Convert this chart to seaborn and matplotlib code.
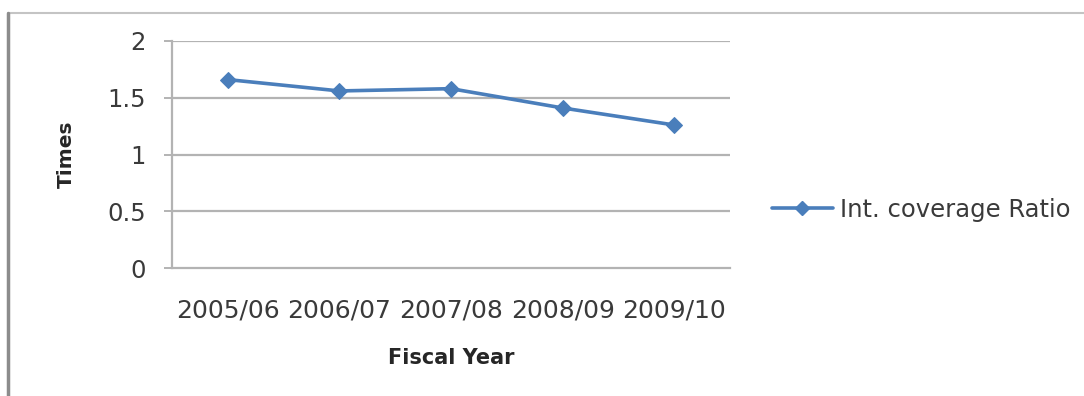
import matplotlib
matplotlib.use("Agg")
import matplotlib.pyplot as plt
from matplotlib.lines import Line2D
import seaborn as sns
import pandas as pd

# Interest coverage ratio by fiscal year
fiscal_years = ["2005/06", "2006/07", "2007/08", "2008/09", "2009/10"]
coverage_ratio = [1.66, 1.56, 1.58, 1.41, 1.26]
y_ticks = [0, 0.5, 1, 1.5, 2]
y_tick_labels = ["0", "0.5", "1", "1.5", "2"]
series_name = "Int. coverage Ratio"

df = pd.DataFrame({"Fiscal Year": fiscal_years, "Times": coverage_ratio})

sns.set_theme(style="white")
plt.rcParams["font.family"] = ["DejaVu Sans"]

line_color = "#4A7EBB"
grid_color = "#B3B3B3"
text_color = "#3A3A3A"

fig = plt.figure(figsize=(10.84, 3.96), dpi=100)
ax = fig.add_axes([172 / 1084, 1 - 268 / 396, (730 - 172) / 1084, (268 - 41) / 396])

sns.lineplot(data=df, x="Fiscal Year", y="Times", ax=ax, sort=False,
             color=line_color, linewidth=2.6, marker="D", markersize=8.5,
             markeredgecolor=line_color, markerfacecolor=line_color)

ax.set_xlim(-0.5, len(fiscal_years) - 0.5)
ax.set_ylim(0, 2)
ax.set_yticks(y_ticks)
ax.set_yticklabels(y_tick_labels)

# horizontal gridlines only
for y in y_ticks[1:]:
    ax.axhline(y, color=grid_color, linewidth=1.6, zorder=0)

for side in ["top", "right"]:
    ax.spines[side].set_visible(False)
for side in ["left", "bottom"]:
    ax.spines[side].set_color(grid_color)
    ax.spines[side].set_linewidth(1.6)

ax.tick_params(axis="y", which="major", left=True, length=6, width=1.4,
               color=grid_color, pad=13, labelsize=17.5, labelcolor=text_color)
ax.tick_params(axis="x", which="major", bottom=False, length=0, pad=22,
               labelsize=18, labelcolor=text_color)

ax.set_xlabel("Fiscal Year", fontsize=15, fontweight="bold", color="#262626", va="center")
ax.set_ylabel("Times", fontsize=14.5, fontweight="bold", color="#262626", va="center")
ax.xaxis.set_label_coords(0.5, (268 - 358) / 227)
ax.yaxis.set_label_coords((66 - 172) / 558, 0.5)

handle = Line2D([], [], color=line_color, linewidth=2.6, marker="D", markersize=7,
                markeredgecolor=line_color, markerfacecolor=line_color)
leg = fig.legend([handle], [series_name], loc="center left",
                 bbox_to_anchor=(772 / 1084, 1 - 210 / 396), frameon=False,
                 fontsize=17.5, handlelength=2.5, handletextpad=0.29,
                 borderaxespad=0, borderpad=0)
for t in leg.get_texts():
    t.set_color(text_color)

# chart area frame (top and left edges)
fig.add_artist(Line2D([8 / 1084, 1], [1 - 13 / 396, 1 - 13 / 396],
                      transform=fig.transFigure, color="#C4C4C4", linewidth=1.5))
fig.add_artist(Line2D([8 / 1084, 8 / 1084], [0, 1 - 13 / 396],
                      transform=fig.transFigure, color="#8C8C8C", linewidth=2.5))

fig.savefig("out.png", dpi=100, facecolor="white")
